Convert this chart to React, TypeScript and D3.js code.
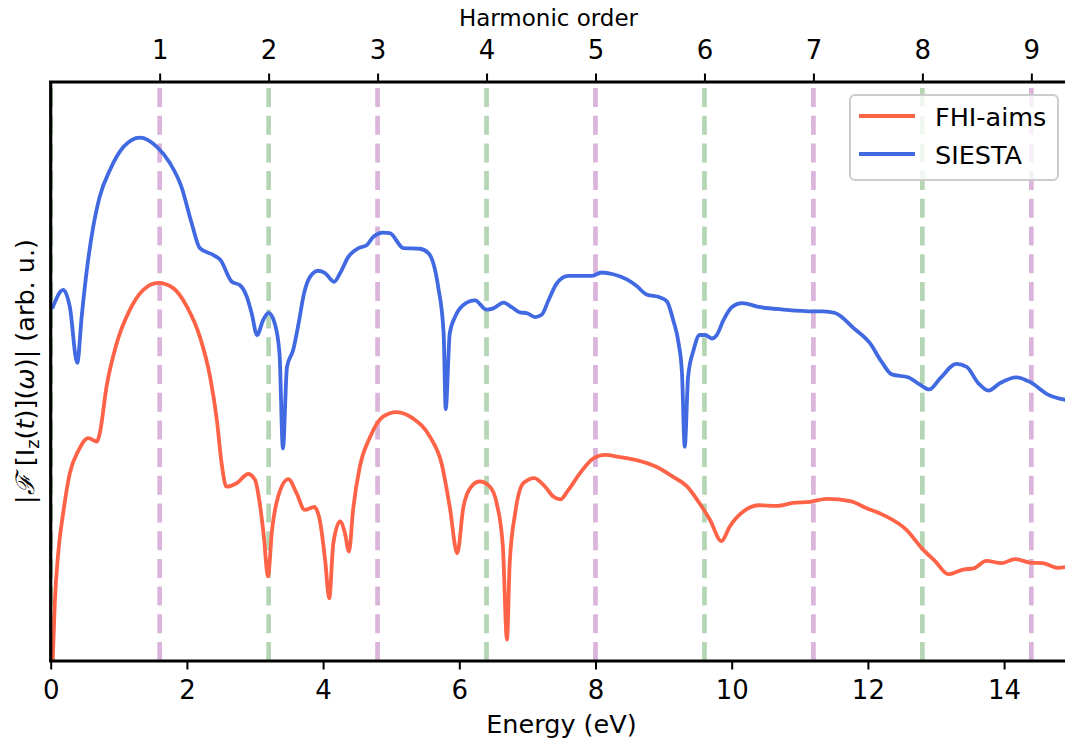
import React, { useEffect, useRef } from "react";
import * as d3 from "d3";

const W = 1065;
const H = 742;

const photonEnergy = 1.6;
const harmonicLines = [0, 1, 2, 3, 4, 5, 6, 7, 8, 9];
const harmonicTicks = [1, 2, 3, 4, 5, 6, 7, 8, 9];
const energyTicks = [0, 2, 4, 6, 8, 10, 12, 14];

const fhiEnergy = [
  0.03, 0.06, 0.11, 0.19, 0.28, 0.41, 0.55, 0.68, 0.72, 0.82, 0.97, 1.16, 1.36, 1.58, 1.8, 2.0,
  2.19, 2.34, 2.44, 2.51, 2.58, 2.73, 2.9, 3.0, 3.07, 3.13, 3.19, 3.25, 3.34, 3.49, 3.61, 3.73,
  3.87, 3.95, 4.03, 4.09, 4.15, 4.25, 4.32, 4.38, 4.44, 4.54, 4.69, 4.88, 5.08, 5.32, 5.57, 5.74,
  5.86, 5.97, 6.06, 6.18, 6.3, 6.45, 6.55, 6.64, 6.7, 6.74, 6.82, 6.94, 7.1, 7.26, 7.38, 7.48,
  7.6, 7.77, 7.97, 8.14, 8.36, 8.6, 8.9, 9.14, 9.34, 9.53, 9.68, 9.85, 9.97, 10.17, 10.39, 10.66,
  10.9, 11.15, 11.4, 11.74, 11.98, 12.23, 12.57, 12.79, 12.99, 13.18, 13.4, 13.55, 13.74, 13.96,
  14.16, 14.38, 14.57, 14.79, 14.95,
];
const fhiValue = [
  0.2, 10.0, 18.6, 26.1, 32.4, 36.4, 38.5, 37.9, 39.3, 47.4, 54.9, 60.6, 64.1, 65.3, 64.4, 61.2,
  56.0, 49.1, 41.6, 34.1, 30.1, 30.7, 32.3, 31.3, 27.2, 21.5, 14.6, 22.6, 28.4, 31.4, 29.0, 26.1,
  26.6, 24.4, 17.4, 10.8, 20.3, 24.1, 22.1, 18.9, 26.1, 33.6, 38.7, 42.2, 43.0, 41.9, 38.7, 34.1,
  26.6, 18.6, 26.6, 30.2, 31.0, 30.1, 27.2, 19.7, 3.7, 16.9, 25.5, 30.7, 31.6, 30.1, 28.4, 27.9,
  29.5, 32.4, 35.0, 35.6, 35.2, 34.7, 33.5, 31.8, 30.2, 27.2, 24.4, 20.7, 23.2, 25.8, 26.9, 26.8,
  27.3, 27.5, 28.0, 27.6, 26.4, 25.2, 22.6, 19.5, 17.2, 15.0, 15.8, 16.0, 17.3, 16.9,
  17.6, 17.0, 16.9, 16.1, 16.3,
];

const siestaEnergy = [
  0.03, 0.185, 0.28, 0.39, 0.455, 0.53, 0.6, 0.72, 0.87, 1.07, 1.31, 1.56, 1.75, 1.92, 2.07, 2.19,
  2.39, 2.49, 2.66, 2.78, 2.88, 2.95, 3.03, 3.12, 3.2, 3.29, 3.36, 3.41, 3.47, 3.56, 3.64, 3.72,
  3.81, 3.93, 4.03, 4.16, 4.25, 4.37, 4.52, 4.64, 4.74, 4.88, 4.98, 5.18, 5.42, 5.55, 5.69, 5.77,
  5.8, 5.86, 5.94, 6.06, 6.23, 6.4, 6.5, 6.65, 6.77, 6.89, 6.99, 7.11, 7.21, 7.31, 7.43, 7.6,
  7.77, 7.94, 8.09, 8.26, 8.46, 8.6, 8.75, 8.95, 9.05, 9.14, 9.22, 9.27, 9.31, 9.36, 9.44, 9.53,
  9.61, 9.71, 9.78, 9.88, 10.0, 10.15, 10.42, 10.76, 11.2, 11.34, 11.52, 11.79, 12.03, 12.2, 12.35,
  12.59, 12.77, 12.9, 13.06, 13.3, 13.45, 13.62, 13.77, 13.94, 14.18, 14.38, 14.63, 14.95,
];
const siestaValue = [
  61.1, 64.1, 61.2, 51.5, 59.5, 67.5, 73.3, 80.2, 84.8, 88.8, 90.4, 88.8, 86.0, 81.9, 75.6, 71.3,
  70.1, 69.3, 65.5, 64.9, 62.9, 60.1, 56.3, 58.9, 60.1, 58.3, 53.1, 36.7, 50.8, 53.7, 58.3, 63.5,
  66.4, 67.4, 67.0, 65.5, 67.0, 69.8, 71.3, 71.8, 73.3, 74.0, 73.9, 71.3, 71.2, 70.4, 64.6, 56.6,
  43.5, 56.6, 59.5, 61.5, 62.3, 60.7, 60.9, 61.9, 61.1, 60.2, 60.1, 59.4, 59.8, 62.3, 65.2, 66.5,
  66.5, 66.5, 67.1, 66.8, 65.9, 64.8, 63.3, 62.8, 62.1, 58.9, 54.9, 49.7, 37.0, 49.1, 53.7, 56.3,
  56.3, 55.7, 56.3, 58.9, 61.1, 61.8, 61.1, 60.7, 60.4, 60.4, 60.1, 57.5, 54.9, 51.7, 49.5,
  49.0, 47.7, 46.9, 48.8, 51.3, 50.8, 48.0, 46.7, 48.0, 49.0, 48.2, 46.1, 45.0,
];

const seriesNames = ["FHI-aims", "SIESTA"];
const seriesColors = ["#ff6347", "#4169e1"];

const FONT = "DejaVu Sans, sans-serif";
const FS = 25.5;
const FS_TICK = 26;
const FS_TOP = 23;

export default function App() {
  const ref = useRef<SVGSVGElement | null>(null);

  useEffect(() => {
    const svg = d3.select(ref.current);
    svg.selectAll("*").remove();

    const left = 50.7;
    const top = 82;
    const bottom = 661;
    const right = left + 15 * 68.1;
    const x = d3.scaleLinear().domain([0, 15]).range([left, right]);
    const y = d3.scaleLinear().domain([0, 100]).range([bottom, top]);
    const xh = d3.scaleLinear().domain([0, 15 / photonEnergy]).range([left, right]);

    svg
      .append("defs")
      .append("clipPath")
      .attr("id", "plotclip")
      .append("rect")
      .attr("x", left)
      .attr("y", top)
      .attr("width", W - left)
      .attr("height", bottom - top);

    const plot = svg.append("g").attr("clip-path", "url(#plotclip)");

    plot
      .selectAll("line.harm")
      .data(harmonicLines)
      .enter()
      .append("line")
      .attr("class", "harm")
      .attr("x1", (d) => x(d * photonEnergy))
      .attr("x2", (d) => x(d * photonEnergy))
      .attr("y1", bottom)
      .attr("y2", top)
      .attr("stroke", (d) => (d % 2 === 1 ? "#dab4db" : "#b4d6b4"))
      .attr("stroke-width", 4.7)
      .attr("stroke-dasharray", "19 8.7");

    const line = d3
      .line<[number, number]>()
      .x((d) => x(d[0]))
      .y((d) => y(d[1]))
      .curve(d3.curveMonotoneX);

    const fhi: [number, number][] = fhiEnergy.map((e, i) => [e, fhiValue[i]]);
    const siesta: [number, number][] = siestaEnergy.map((e, i) => [e, siestaValue[i]]);

    [fhi, siesta].forEach((data, i) => {
      plot
        .append("path")
        .datum(data)
        .attr("d", line)
        .attr("fill", "none")
        .attr("stroke", seriesColors[i])
        .attr("stroke-width", 3.8)
        .attr("stroke-linejoin", "round")
        .attr("stroke-linecap", "round");
    });

    const ax = svg
      .append("g")
      .attr("transform", `translate(0,${bottom})`)
      .call(
        d3
          .axisBottom(x)
          .tickValues(energyTicks)
          .tickSize(8.5)
          .tickPadding(11)
          .tickFormat((d) => String(d))
      );
    ax.select(".domain").remove();
    ax.selectAll(".tick line").attr("stroke", "#000").attr("stroke-width", 2);
    ax.selectAll(".tick text")
      .attr("font-family", FONT)
      .attr("font-size", FS_TICK)
      .attr("fill", "#000");

    const axt = svg
      .append("g")
      .attr("transform", `translate(0,${top})`)
      .call(
        d3
          .axisTop(xh)
          .tickValues(harmonicTicks)
          .tickSize(8.5)
          .tickPadding(14.5)
          .tickFormat((d) => String(d))
      );
    axt.select(".domain").remove();
    axt.selectAll(".tick line").attr("stroke", "#000").attr("stroke-width", 2);
    axt.selectAll(".tick text")
      .attr("font-family", FONT)
      .attr("font-size", FS_TICK)
      .attr("fill", "#000");

    const sp = svg.append("g").attr("stroke", "#000").attr("stroke-width", 3.2);
    sp.append("line").attr("x1", left).attr("x2", left).attr("y1", top).attr("y2", bottom);
    sp.append("line").attr("x1", left - 1.6).attr("x2", W).attr("y1", top).attr("y2", top);
    sp.append("line").attr("x1", left - 1.6).attr("x2", W).attr("y1", bottom).attr("y2", bottom);

    svg
      .append("text")
      .attr("x", (left + right) / 2)
      .attr("y", 733)
      .attr("text-anchor", "middle")
      .attr("font-family", FONT)
      .attr("font-size", FS)
      .text("Energy (eV)");

    svg
      .append("text")
      .attr("x", 548.5)
      .attr("y", 26)
      .attr("text-anchor", "middle")
      .attr("font-family", FONT)
      .attr("font-size", FS_TOP)
      .text("Harmonic order");

    const yl = svg
      .append("text")
      .attr("transform", `translate(34,${(top + bottom) / 2}) rotate(-90)`)
      .attr("text-anchor", "middle")
      .attr("font-family", FONT)
      .attr("font-size", FS);
    yl.append("tspan").text("|");
    yl.append("tspan").attr("font-family", "DejaVu Serif, serif").attr("font-style", "italic").text("ℱ");
    yl.append("tspan").text(" [I");
    yl.append("tspan").attr("font-size", FS * 0.7).attr("dy", 5).text("z");
    yl.append("tspan").attr("dy", -5).text("(");
    yl.append("tspan").attr("font-style", "italic").text("t");
    yl.append("tspan").text(")](");
    yl.append("tspan").attr("font-style", "italic").text("ω");
    yl.append("tspan").text(")| (arb. u.)");

    const lg = svg.append("g");
    lg.append("rect")
      .attr("x", 850)
      .attr("y", 95)
      .attr("width", 208)
      .attr("height", 85)
      .attr("rx", 5)
      .attr("fill", "rgba(255,255,255,0.8)")
      .attr("stroke", "#cccccc")
      .attr("stroke-width", 2);
    seriesNames.forEach((name, i) => {
      const cy = 116 + i * 38;
      lg.append("line")
        .attr("x1", 859)
        .attr("x2", 915)
        .attr("y1", cy)
        .attr("y2", cy)
        .attr("stroke", seriesColors[i])
        .attr("stroke-width", 4);
      lg.append("text")
        .attr("x", 935)
        .attr("y", cy + 10)
        .attr("font-family", FONT)
        .attr("font-size", FS)
        .text(name);
    });
  }, []);

  return (
    <svg
      ref={ref}
      width={W}
      height={H}
      style={{ position: "absolute", left: 0, top: 0, background: "#fff" }}
    />
  );
}
